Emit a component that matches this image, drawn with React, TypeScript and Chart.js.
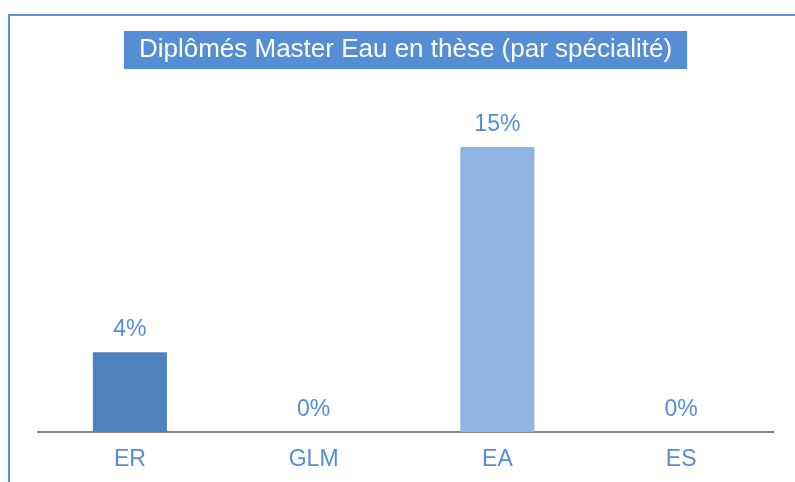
import React, { useEffect, useRef } from "react";
import { Chart, registerables } from "chart.js";

Chart.register(...registerables);

const TITLE = "Diplômés Master Eau en thèse (par spécialité)";
const categories = ["ER", "GLM", "EA", "ES"];
const values = [4.2, 0, 15, 0];
const barColors = ["#4F81BD", "#4F81BD", "#8EB4E3", "#8EB4E3"];
const yMax = 16;

const FONT = "'Liberation Sans', Arial, sans-serif";
const BLUE = "#558ED5";

const framePlugin = {
  id: "frameAndTitleBox",
  beforeDraw(chart: any) {
    const ctx = chart.ctx;
    ctx.save();
    ctx.strokeStyle = "#5B90DB";
    ctx.lineWidth = 2;
    ctx.beginPath();
    ctx.moveTo(9, chart.height);
    ctx.lineTo(9, 15);
    ctx.lineTo(chart.width, 15);
    ctx.stroke();
    const tb = chart.titleBlock;
    if (tb) {
      ctx.font = `26px ${FONT}`;
      const w = ctx.measureText(TITLE).width + 30;
      const cx = (tb.left + tb.right) / 2;
      const cy = tb.top + 34.4 + 15.6;
      ctx.fillStyle = BLUE;
      ctx.fillRect(cx - w / 2, cy - 19, w, 38);
    }
    ctx.restore();
  },
};

const labelPlugin = {
  id: "valueLabels",
  afterDatasetsDraw(chart: any) {
    const ctx = chart.ctx;
    const meta = chart.getDatasetMeta(0);
    ctx.save();
    ctx.font = `23px ${FONT}`;
    ctx.fillStyle = BLUE;
    ctx.textAlign = "center";
    ctx.textBaseline = "alphabetic";
    meta.data.forEach((bar: any, i: number) => {
      const v = values[i];
      ctx.fillText(`${Math.round(v)}%`, bar.x, bar.y - 16);
    });
    ctx.restore();
  },
};

export default function App() {
  const ref = useRef<HTMLCanvasElement>(null);
  useEffect(() => {
    if (!ref.current) return;
    const chart = new Chart(ref.current, {
      type: "bar",
      data: {
        labels: categories,
        datasets: [
          {
            data: values,
            backgroundColor: barColors,
            borderWidth: 0,
            barPercentage: 0.403,
            categoryPercentage: 1,
          },
        ],
      },
      options: {
        responsive: false,
        animation: false,
        layout: { padding: { left: 38, right: 22, top: 0, bottom: -5.6 } },
        plugins: {
          legend: { display: false },
          tooltip: { enabled: false },
          title: {
            display: true,
            text: TITLE,
            color: "#FFFFFF",
            font: { family: FONT, size: 26, weight: "normal" as any, lineHeight: 1.2 },
            padding: { top: 34.4, bottom: 62.4 },
          },
        },
        scales: {
          x: {
            grid: { display: false, drawTicks: false },
            border: { display: true, color: "#868686", width: 2 },
            ticks: {
              color: BLUE,
              font: { family: FONT, size: 23, lineHeight: 1.2 },
              padding: 14,
            },
          },
          y: {
            display: false,
            min: 0,
            max: yMax,
          },
        },
      },
      plugins: [framePlugin, labelPlugin],
    });
    return () => chart.destroy();
  }, []);
  return (
    <div style={{ position: "fixed", left: 0, top: 0, width: 795, height: 482, background: "#fff" }}>
      <canvas ref={ref} width={795} height={482} style={{ display: "block" }} />
    </div>
  );
}
